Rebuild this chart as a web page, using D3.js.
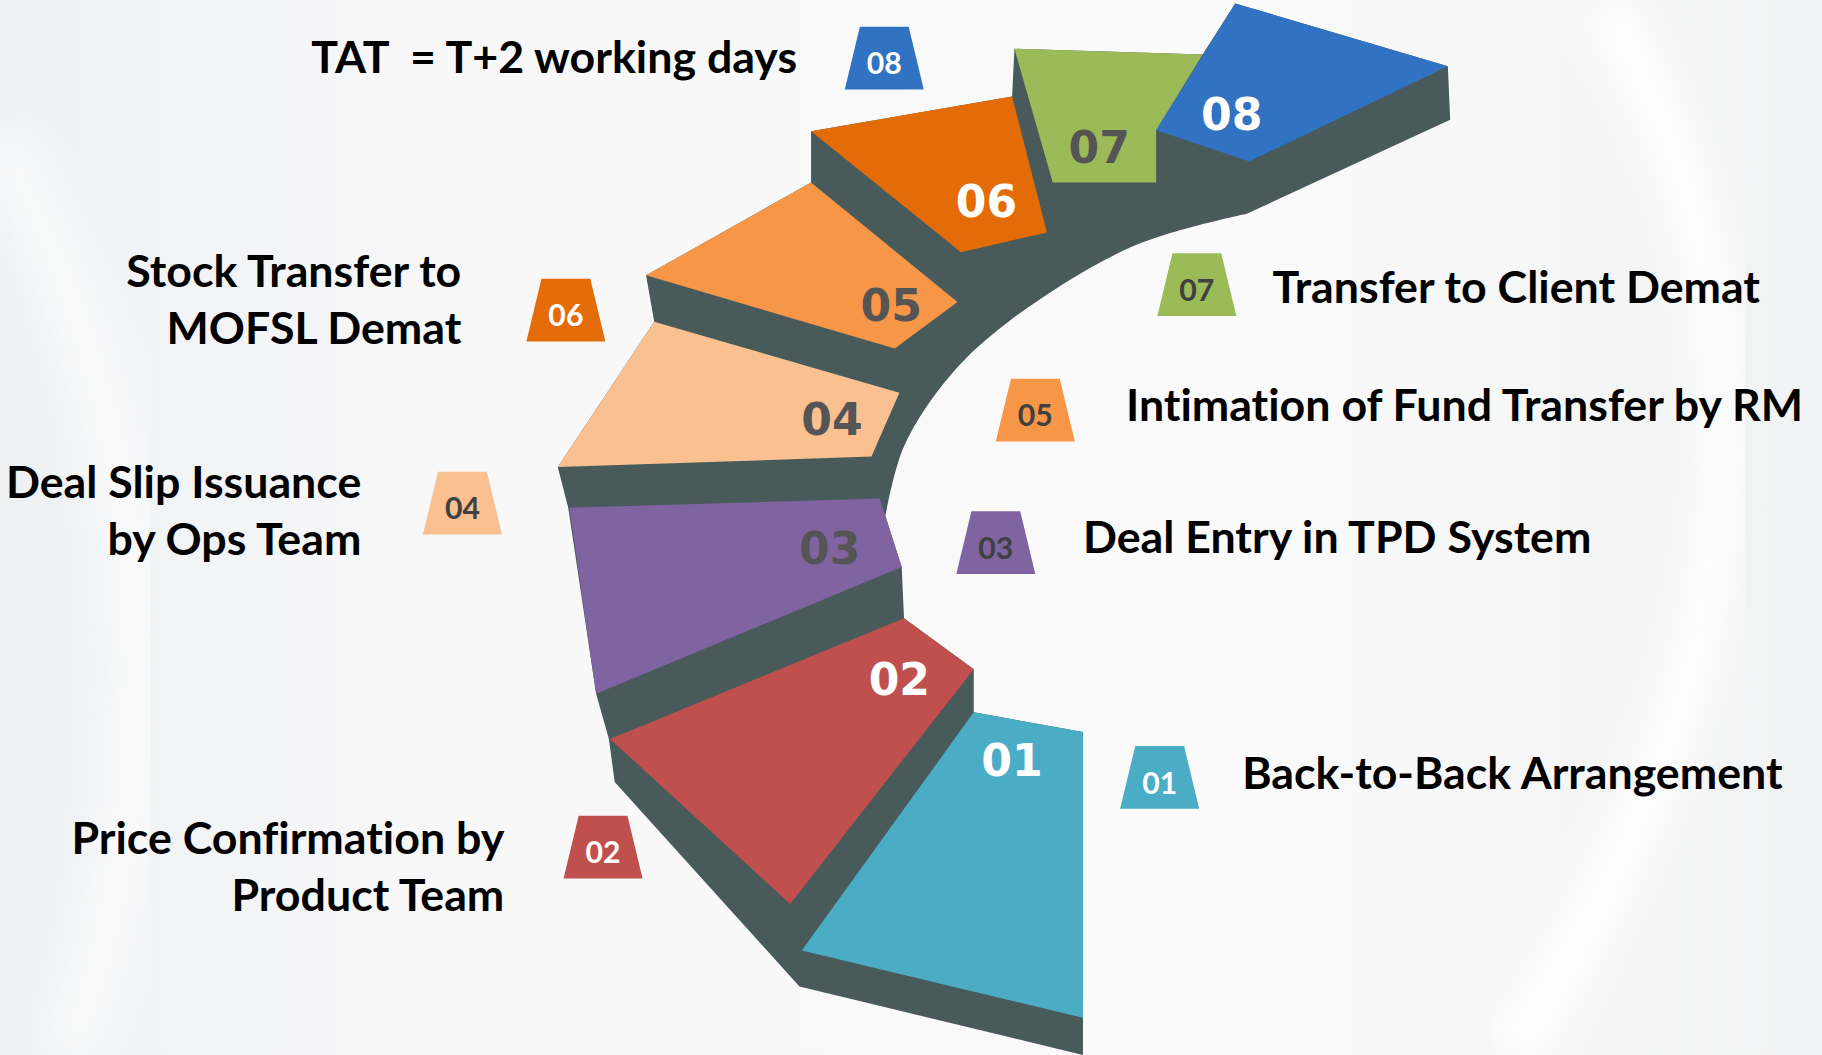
<!DOCTYPE html>
<html>
<head>
<meta charset="utf-8">
<script src="https://cdn.jsdelivr.net/npm/d3@7/dist/d3.min.js"></script>
<style>
  html, body { margin: 0; padding: 0; background: #f6f6f7; }
  svg { display: block; }
  text { font-variant-ligatures: none; }
</style>
</head>
<body>
<div id="container"></div>
<script>
// step data
const stepIds = ['01', '02', '03', '04', '05', '06', '07', '08'];
const stepLabels = [
    ['Back-to-Back Arrangement'],
    ['Price Confirmation by', 'Product Team'],
    ['Deal Entry in TPD System'],
    ['Deal Slip Issuance', 'by Ops Team'],
    ['Intimation of Fund Transfer by RM'],
    ['Stock Transfer to', 'MOFSL Demat'],
    ['Transfer to Client Demat'],
    ['TAT  = T+2 working days']
];
const stepColors = ['#4BACC6', '#C0504D', '#8064A2', '#FAC090', '#F79646', '#E36C09', '#9BBB59', '#3172C3'];
const bigNumColors = ['#fff', '#fff', '#555', '#555', '#555', '#fff', '#555', '#fff'];
const badgeTextColors = ['#fff', '#fff', '#404040', '#404040', '#404040', '#fff', '#404040', '#fff'];

// geometry (in 1568x908 units)
const faceShapes = [
    [[838, 613], [932, 630], [932, 876], [690, 818]],
    [[525, 636], [778, 532], [838, 576], [680, 778]],
    [[490, 437], [757, 429], [776, 488], [513, 597]],
    [[563, 277], [774, 338], [750, 393], [480, 402]],
    [[556, 237], [698, 157], [824, 260], [770, 300]],
    [[698, 113], [871, 83], [901, 200], [827, 217]],
    [[873, 42], [1035, 47], [995, 112], [995, 157], [906, 157]],
    [[1063, 3], [1246, 57], [1075, 139], [995, 112]]
];
const outerEdge = [
    [1246, 57], [1248, 103], [1073, 184]
];
const innerArc = [[1073, 184], [975, 212], [869, 276], [818, 323], [778, 384], [762, 444]];
const lowerEdge = [
    [776, 488], [778, 532], [838, 576], [838, 613], [932, 630], [932, 908], [688, 849],
    [529, 673], [524, 636], [513, 597], [489, 437], [480, 402], [563, 277], [556, 237],
    [698, 157], [698, 113], [871, 83], [873, 42], [1035, 47], [1063, 3]
];
const bigNumPos = [[871, 668], [774, 598], [714, 485], [716, 374], [767, 276], [849, 187], [946, 140], [1060, 112]];
const badgePos = [[998, 642], [519, 702], [857, 440], [398, 406], [891, 326], [487, 240], [1030, 218], [761, 23]];
// label anchor: x, first baseline, side
const labelPos = [
    [1069, 679, 'start'], [434, 735, 'end'], [932, 476, 'start'], [311, 429, 'end'],
    [969, 362, 'start'], [397, 247, 'end'], [1095, 261, 'start'], [686, 63, 'end']
];

const W = 1822, H = 1055;
const k = W / 1568;
const x = d3.scaleLinear().domain([0, 1568]).range([0, W]);
const y = d3.scaleLinear().domain([0, 908]).range([0, H]);

const svg = d3.select('#container').append('svg')
    .attr('width', W)
    .attr('height', H);

// background
const defs = svg.append('defs');
const bg = defs.append('linearGradient').attr('id', 'bg').attr('x1', 0).attr('x2', 1).attr('y1', 0).attr('y2', 0);
bg.append('stop').attr('offset', '0%').attr('stop-color', '#eef0f2');
bg.append('stop').attr('offset', '25%').attr('stop-color', '#f8f8f9');
bg.append('stop').attr('offset', '70%').attr('stop-color', '#fafafa');
bg.append('stop').attr('offset', '100%').attr('stop-color', '#f1f2f3');
defs.append('filter').attr('id', 'blur').append('feGaussianBlur').attr('stdDeviation', 18);

svg.append('rect').attr('width', W).attr('height', H).attr('fill', 'url(#bg)');
svg.append('path')
    .attr('d', `M${x(1380)},${y(0)} Q${x(1620)},${y(420)} ${x(1300)},${y(908)}`)
    .attr('fill', 'none').attr('stroke', '#ffffff').attr('stroke-width', 60)
    .attr('opacity', 0.8).attr('filter', 'url(#blur)');
svg.append('path')
    .attr('d', `M${x(0)},${y(120)} Q${x(200)},${y(500)} ${x(60)},${y(908)}`)
    .attr('fill', 'none').attr('stroke', '#ffffff').attr('stroke-width', 50)
    .attr('opacity', 0.7).attr('filter', 'url(#blur)');

// dark body of the staircase
const toPx = p => [x(p[0]), y(p[1])];
const straight = d3.line();
const curved = d3.line().curve(d3.curveCatmullRom.alpha(0.5));
const bodyPath = straight(outerEdge.map(toPx))
    + curved(innerArc.map(toPx)).replace(/^M/, 'L')
    + straight(lowerEdge.map(toPx)).replace(/^M/, 'L') + 'Z';

svg.append('path')
    .attr('d', bodyPath)
    .attr('fill', '#485a5a');

// coloured treads
svg.selectAll('.face')
    .data(faceShapes)
    .enter()
    .append('path')
    .attr('class', 'face')
    .attr('d', d => straight(d.map(toPx)) + 'Z')
    .attr('fill', (d, i) => stepColors[i]);

// big numbers on the treads
svg.selectAll('.bignum')
    .data(stepIds)
    .enter()
    .append('text')
    .attr('class', 'bignum')
    .attr('x', (d, i) => x(bigNumPos[i][0]))
    .attr('y', (d, i) => y(bigNumPos[i][1]))
    .attr('text-anchor', 'middle')
    .attr('font-family', '"DejaVu Sans", sans-serif')
    .attr('font-weight', 'bold')
    .attr('font-size', 38 * k)
    .attr('fill', (d, i) => bigNumColors[i])
    .text(d => d);

// small trapezoid badges
const badge = svg.selectAll('.badge')
    .data(stepIds)
    .enter()
    .append('g')
    .attr('class', 'badge');

badge.append('path')
    .attr('d', (d, i) => {
        const [cx, top] = badgePos[i];
        return straight([[cx - 21, top], [cx + 21, top], [cx + 34, top + 54], [cx - 34, top + 54]].map(toPx)) + 'Z';
    })
    .attr('fill', (d, i) => stepColors[i]);

badge.append('text')
    .attr('x', (d, i) => x(badgePos[i][0]))
    .attr('y', (d, i) => y(badgePos[i][1] + 41))
    .attr('text-anchor', 'middle')
    .attr('font-family', 'Lato, sans-serif')
    .attr('font-weight', 'bold')
    .attr('font-size', 26 * k)
    .attr('fill', (d, i) => badgeTextColors[i])
    .text(d => d);

// step descriptions
const label = svg.selectAll('.label')
    .data(stepLabels)
    .enter()
    .append('text')
    .attr('class', 'label')
    .attr('text-anchor', (d, i) => labelPos[i][2])
    .attr('font-family', 'Lato, sans-serif')
    .attr('font-weight', 'bold')
    .attr('font-size', 38.5 * k)
    .attr('fill', '#000');

label.selectAll('tspan')
    .data((d, i) => d.map(line => ({ line, i })))
    .enter()
    .append('tspan')
    .attr('x', d => x(labelPos[d.i][0]))
    .attr('y', (d, j) => y(labelPos[d.i][1] + j * 49))
    .attr('xml:space', 'preserve')
    .style('white-space', 'pre')
    .text(d => d.line);
</script>
</body>
</html>
